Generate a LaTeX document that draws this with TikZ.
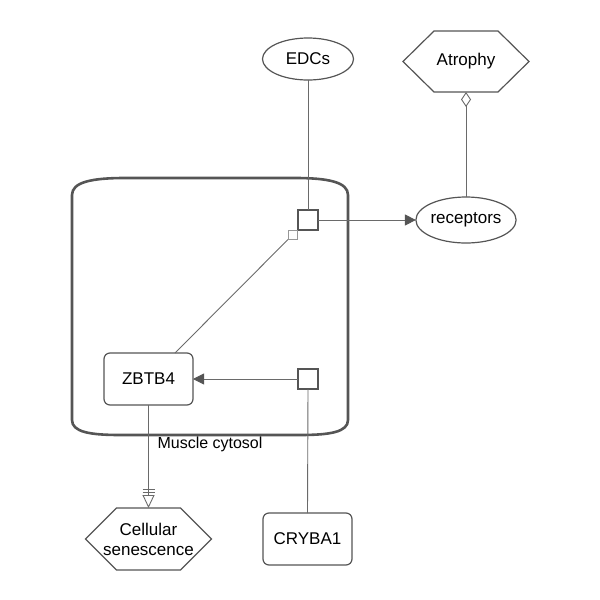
\documentclass[tikz,border=0pt]{standalone}
\usepackage{fontspec}
\setmainfont{Liberation Sans}
\usetikzlibrary{arrows.meta,shapes.geometric}
\definecolor{edge}{HTML}{555555}
\definecolor{lineg}{HTML}{6A6A6A}
\begin{document}
\begin{tikzpicture}[x=1pt,y=-1pt,
  every node/.style={font=\fontsize{17}{20}\selectfont, align=center, outer sep=0pt, inner sep=0pt},
  entity/.style={draw=edge, line width=1.2pt, fill=white},
  rbox/.style={entity, rectangle, rounded corners=6pt, minimum width=89pt, minimum height=52pt},
  oval/.style={entity, ellipse},
  hexbox/.style={rectangle, draw=none, minimum width=126pt, minimum height=61pt},
  proc/.style={draw=edge, line width=1.1pt, fill=white, minimum size=20pt},
  modsq/.style={draw=lineg!70, line width=1pt, fill=white, minimum size=9pt},
  conn/.style={draw=lineg, line width=0.9pt},
  fillarrow/.style={-{Triangle[width=11pt,length=11pt,fill=edge,color=edge]}},
  openarrow/.style={-{Triangle[open,width=12pt,length=13pt,color=lineg]}},
  diamarrow/.style={-{Diamond[open,width=10pt,length=15pt,color=lineg]}},
  comp/.style={draw=edge, line width=2.6pt}
]
\useasboundingbox (0,0) rectangle (600,600);

% compartment
\draw[comp] (72,195) .. controls (72,182) and (92,178) .. (125,178) -- (295,178)
  .. controls (328,178) and (348,182) .. (348,195) -- (348,420)
  .. controls (348,432) and (330,435) .. (300,435) -- (120,435)
  .. controls (90,435) and (72,432) .. (72,420) -- cycle;
\node[font=\fontsize{16}{18}\selectfont] (lbl) at (210,444) {Muscle cytosol};

% nodes
\node[oval, minimum width=91pt, minimum height=42pt] (edcs) at (308,59) {EDCs};
\node[hexbox] (atro) at (466,61.5) {Atrophy};
\node[oval, minimum width=86pt, minimum height=46pt] (rec) at (466,220) {receptors};
\node[proc] (p1) at (308,220) {};
\node[modsq] (mod) at (292.5,235) {};
\node[rbox] (zbtb) at (148.5,379) {ZBTB4};
\node[proc] (p2) at (308,379) {};
\node[rbox] (cry) at (307.5,539) {CRYBA1};
\node[hexbox, minimum height=62pt] (sen) at (148.5,539) {Cellular\\senescence};

% hexagon outlines
\foreach \n in {atro,sen}{
  \draw[entity, fill=none] (\n.west) -- ([xshift=31pt]\n.north west) -- ([xshift=-31pt]\n.north east)
    -- (\n.east) -- ([xshift=-31pt]\n.south east) -- ([xshift=31pt]\n.south west) -- cycle;
}

% connectors
\draw[conn] (edcs.south) -- (p1.north);
\draw[conn, fillarrow] (p1.east) -- (rec.west);
\draw[conn, diamarrow] (rec.north) -- (atro.south);
\draw[conn] ([xshift=26.5pt]zbtb.north) -- (mod.south west);
\draw[conn, fillarrow] (p2.west) -- (zbtb.east);
\draw[conn] (cry.north) -- (p2.south);
\draw[conn, openarrow] (zbtb.south) -- (sen.north);
\coordinate (b1l) at ([xshift=-6pt,yshift=19pt]sen.north);
\coordinate (b1r) at ([xshift=6pt,yshift=19pt]sen.north);
\coordinate (b2l) at ([xshift=-6pt,yshift=16pt]sen.north);
\coordinate (b2r) at ([xshift=6pt,yshift=16pt]sen.north);
\draw[conn] (b1l) -- (b1r);
\draw[conn] (b2l) -- (b2r);
\end{tikzpicture}
\end{document}
